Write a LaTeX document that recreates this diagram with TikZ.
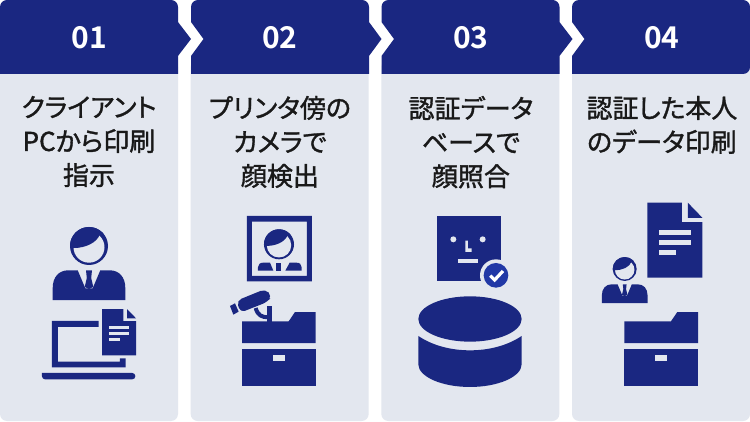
\documentclass[tikz,border=0pt]{standalone}
\usepackage{fontspec}
\usepackage{xcolor}
\setmainfont{Noto Sans CJK JP}[FakeBold=1.3,RawFeature=+palt]
\newfontfamily\numfont{Noto Sans CJK JP Bold}
\usetikzlibrary{positioning}
\definecolor{navy}{HTML}{1A2781}
\definecolor{panelbg}{HTML}{E3E7EF}
\definecolor{checkblue}{HTML}{2138A6}
\tikzset{
    panelbox/.style={fill=panelbg,rounded corners=7pt,minimum width=178pt,minimum height=361pt,inner sep=0pt,outer sep=0pt},
    headbox/.style={fill=navy},
    numlabel/.style={text=white,font=\numfont\fontsize{30}{30}\selectfont},
    steptext/.style={align=center,text=black!90,font=\fontsize{26}{34}\selectfont,inner sep=0pt},
    icon/.style={fill=navy},
    cutout/.style={fill=panelbg}
}
% head with hair, origin at its centre
\newcommand{\headicon}[2]{
\begin{scope}[shift={(#1)},scale=#2]
    \fill[icon] (0,0) circle (19);
    \fill[cutout] (0,1.2) circle (15.5);
    \begin{scope}
        \clip (0,0) circle (19);
        \fill[icon] (-19,2) -- (-15,2) .. controls (-4,2) and (8,-3) .. (11,-12) -- (19,-12) -- (19,-19) -- (-19,-19) -- cycle;
    \end{scope}
\end{scope}}
% person with tie, origin at the centre of the head
\newcommand{\personicon}[2]{
\headicon{#1}{#2}
\begin{scope}[shift={(#1)},scale=#2]
    \fill[icon] (-36.3,54) -- (-36.3,42) .. controls (-36.3,31) and (-30,24.3) .. (-20.7,24.3) -- (-11.3,24.3) -- (-3.7,42.3) -- (3.7,42.3) -- (11.3,24.3) -- (20.7,24.3) .. controls (30,24.3) and (36.3,31) .. (36.3,42) -- (36.3,54) -- cycle;
    \fill[icon] (-3,24.3) -- (3,24.3) -- (2.2,32) -- (4.3,41) -- (0,43) -- (-4.3,41) -- (-2.2,32) -- cycle;
\end{scope}}
% sheet with folded corner, origin at the top left
\newcommand{\docicon}[2]{
\begin{scope}[shift={(#1)},scale=#2]
    \fill[icon] (0,0) -- (21.3,0) -- (21.3,12) -- (34,12) -- (34,46.3) -- (0,46.3) -- cycle;
    \fill[icon] (25,0) -- (34,9.3) -- (25,9.3) -- cycle;
    \fill[cutout] (7,17) rectangle (27,19.7);
    \fill[cutout] (7,23) rectangle (27,26);
    \fill[cutout] (7,29.3) rectangle (18,32.3);
\end{scope}}
% open drawer, origin at the top left
\newcommand{\drawericon}[1]{
\begin{scope}[shift={(#1)}]
    \fill[icon] (0,9.3) -- (46.7,9.3) -- (53,0) -- (73.7,0) -- (73.7,31) -- (0,31) -- cycle;
    \fill[icon] (0,37) rectangle (73.7,73.7);
    \fill[cutout] (31,43.3) rectangle (42.7,49.3);
\end{scope}}
\begin{document}
\begin{tikzpicture}[x=1pt,y=-1pt]
    \useasboundingbox (0,0) rectangle (750,422);
    \fill[white] (0,0) rectangle (750,422);
    % panels
    \node[panelbox,anchor=north west] (panel1) at (0,60) {};
    \node[panelbox,right=12.67pt of panel1] (panel2) {};
    \node[panelbox,right=12.67pt of panel2] (panel3) {};
    \node[panelbox,right=12.67pt of panel3] (panel4) {};
    % headers
    \fill[headbox] (0,74) [rounded corners=7pt] -- (0,0) -- (178,0) [sharp corners] -- (178,22) -- (191,39) -- (178,56) -- (178,74) -- cycle;
    \fill[headbox,shift={(191,0)}] (0,74) -- (0,56) -- (12.5,39) -- (0,22) [rounded corners=7pt] -- (0,0) -- (178,0) [sharp corners] -- (178,22) -- (190.5,39) -- (178,56) -- (178,74) -- cycle;
    \fill[headbox,shift={(381.5,0)}] (0,74) -- (0,56) -- (12.5,39) -- (0,22) [rounded corners=7pt] -- (0,0) -- (178,0) [sharp corners] -- (178,22) -- (191,39) -- (178,56) -- (178,74) -- cycle;
    \fill[headbox,shift={(572,0)}] (0,74) -- (0,56) -- (12.5,39) -- (0,22) [rounded corners=7pt] -- (0,0) -- (178,0) -- (178,74) [sharp corners] -- cycle;
    % numbers and texts
    \node[numlabel] (num1) at (89,38) {01};
    \node[numlabel,right=148.5pt of num1] (num2) {02};
    \node[numlabel,right=148.5pt of num2] (num3) {03};
    \node[numlabel,right=148.5pt of num3] (num4) {04};
    \node[steptext,below=43pt of num1] (text1) {クライアント\\PCから印刷\\指示};
    \node[steptext,below=43pt of num2] (text2) {プリンタ傍の\\カメラで\\顔検出};
    \node[steptext,below=43pt of num3] (text3) {認証データ\\ベースで\\顔照合};
    \node[steptext,below=43pt of num4] (text4) {認証した本人\\のデータ印刷};
    % panel 1
    \personicon{89,246}{1}
    \begin{scope}[shift={(0,210)},scale=.3333]
        \fill[icon] (156,333) -- (296,333) -- (296,351) -- (174,351) -- (174,455) -- (360,455) -- (360,445) -- (377,445) -- (377,472) -- (156,472) -- cycle;
        \fill[icon] (126,489) [rounded corners=3pt] -- (126,508) -- (406,508) -- (406,489) [sharp corners] -- cycle;
    \end{scope}
    \docicon{102,309}{1}
    % panel 2
    \headicon{279,244.3}{.79}
    \begin{scope}[shift={(190,210)},scale=.3333]
        \fill[icon,even odd rule] (171,18) rectangle (366,214) (186,35) rectangle (351,198);
        \fill[icon] (204,182) -- (204,172) .. controls (204,163) and (210,158) .. (220,158) -- (240,158) -- (250,182) -- cycle;
        \fill[icon] (335,182) -- (335,172) .. controls (335,163) and (329,158) .. (319,158) -- (299,158) -- (286,182) -- cycle;
        \fill[icon] (259,160) rectangle (274,182);
        % camera
        \fill[icon] (120,288) -- (135,280) -- (146,305) -- (130,314) -- cycle;
        \fill[icon,rounded corners=5pt] (140,272) -- (226,237) -- (246,258) -- (232,276) -- (151,308) -- cycle;
        \fill[icon] (232,287) -- (247,287) -- (247,336) -- (232,336) -- cycle;
        \draw[navy,line width=4pt] (197,294) .. controls (203,316) and (215,322) .. (236,322);
    \end{scope}
    \drawericon{242,312}
    % panel 3
    \begin{scope}[shift={(380,210)},scale=.3333]
        \fill[icon] (171,18) rectangle (363,212);
        \fill[cutout] (220,88) circle (9);
        \fill[cutout] (308,88) circle (9);
        \fill[cutout] (256,92) -- (264,92) -- (264,115) -- (275,115) -- (275,126) -- (256,126) -- cycle;
        \fill[cutout] (235,147) rectangle (295,158);
        \fill[cutout] (348,196) circle (48);
        \fill[checkblue] (348,196) circle (37);
        \draw[white,line width=3.2pt] (331,197) -- (344,210) -- (369,183);
        \fill[icon] (270,327) ellipse (155 and 68);
        \fill[icon] (115,378) .. controls (160,408) and (215,421) .. (270,421) .. controls (325,421) and (380,408) .. (425,378) -- (425,463) .. controls (425,500) and (355,531) .. (270,531) .. controls (185,531) and (115,500) .. (115,463) -- cycle;
    \end{scope}
    % panel 4
    \docicon{647.3,202.7}{1.62}
    \personicon{624.7,269}{.63}
    \drawericon{624.3,312}
\end{tikzpicture}
\end{document}
